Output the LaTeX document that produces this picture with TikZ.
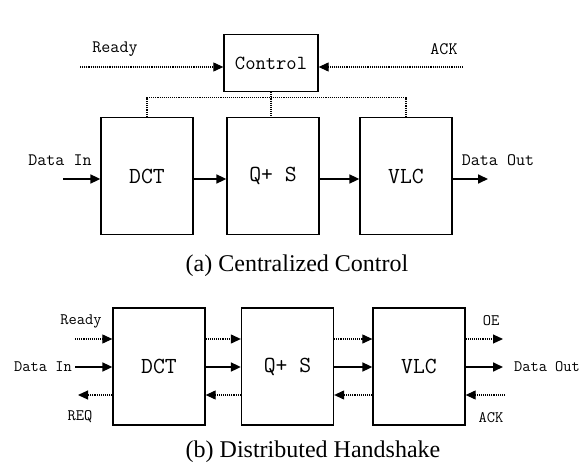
\documentclass[tikz,border=0pt]{standalone}
\usepackage{fontspec}
\setmainfont{Liberation Serif}
\usepackage{tikz}
\usetikzlibrary{arrows.meta}
\newcommand{\stage}[2]{node[stagebox](#1){#2}}
\newcommand{\lbl}[1]{node[sig]{#1}}
\newcommand{\slbl}[1]{node[sig,font=\ttfamily\fontsize{16}{16}\selectfont]{#1}}

\begin{document}
\begin{tikzpicture}[x=1pt,y=-1pt,
  stagebox/.style={draw,line width=1.3pt,minimum width=92pt,minimum height=117pt,inner sep=0pt,font=\ttfamily\fontsize{23}{23}\selectfont},
  sig/.style={inner sep=0pt,font=\ttfamily\fontsize{17.5}{17.5}\selectfont},
  dataline/.style={line width=1.7pt,-{Triangle[length=10pt,width=9pt]}},
  ctlline/.style={line width=1.1pt,densely dotted,-{Triangle[length=10pt,width=9pt]}},
  busline/.style={line width=1.1pt,densely dotted}]
\useasboundingbox (0,0) rectangle (586,468);
% (a) centralized control
\node[draw,line width=1.3pt,minimum width=94pt,minimum height=57pt,inner sep=0pt,font=\ttfamily\fontsize{20}{20}\selectfont] (ctrl) at (271,63) {Control};
\path (147,176) \stage{dcta}{DCT} (273,176) \stage{qsa}{Q+ S} (406,176) \stage{vlca}{VLC};
\coordinate (rdya) at (80,67);
\coordinate (acka) at (463,67);
\coordinate (dina) at (63,179);
\coordinate (douta) at (488,179);
\draw[ctlline] (rdya) -- (rdya -| ctrl.west);
\draw[ctlline] (acka) -- (acka -| ctrl.east);
\draw (115,49) \lbl{Ready} (444,49) \lbl{ACK};
\draw[busline] (dcta.north) -- ++(0,-19) -| (vlca.north) (ctrl.south) -- (ctrl.south |- qsa.north);
\draw[dataline] (dina) -- (dina -| dcta.west);
\draw[dataline] (dcta.east |- dina) -- (dina -| qsa.west);
\draw[dataline] (qsa.east |- dina) -- (dina -| vlca.west);
\draw[dataline] (vlca.east |- douta) -- (douta);
\draw (60,160) \lbl{Data In} (498,160) \lbl{Data Out};
\node[font=\fontsize{24}{24}\selectfont] (capa) at (297,266) {(a) Centralized Control};
% (b) distributed handshake
\path (159,366.5) \stage{dctb}{DCT} (287.5,366.5) \stage{qsb}{Q+ S} (419,366.5) \stage{vlcb}{VLC};
\coordinate (rdyb) at (75,339);
\coordinate (dinb) at (75,367);
\coordinate (reqb) at (78,395);
\coordinate (oeb) at (503,339);
\coordinate (doutb) at (503,367);
\coordinate (ackb) at (505,395);
\draw[ctlline] (rdyb) -- (rdyb -| dctb.west);
\draw[dataline] (dinb) -- (dinb -| dctb.west);
\draw[ctlline] (reqb -| dctb.west) -- (reqb);
\foreach \a/\b in {dctb/qsb, qsb/vlcb} {
  \draw[ctlline] (\a.east |- rdyb) -- (rdyb -| \b.west);
  \draw[dataline] (\a.east |- dinb) -- (dinb -| \b.west);
  \draw[ctlline] (reqb -| \b.west) -- (reqb -| \a.east);
}
\draw[ctlline] (vlcb.east |- oeb) -- (oeb);
\draw[dataline] (vlcb.east |- doutb) -- (doutb);
\draw[ctlline] (ackb) -- (ackb -| vlcb.east);
\draw (81,321) \slbl{Ready} (43,367) \slbl{Data In} (80,417) \slbl{REQ};
\draw (491,321) \slbl{OE} (547,367) \slbl{Data Out} (491,418) \slbl{ACK};
\node[font=\fontsize{24}{24}\selectfont] (capb) at (313,452) {(b) Distributed Handshake};
\end{tikzpicture}
\end{document}
